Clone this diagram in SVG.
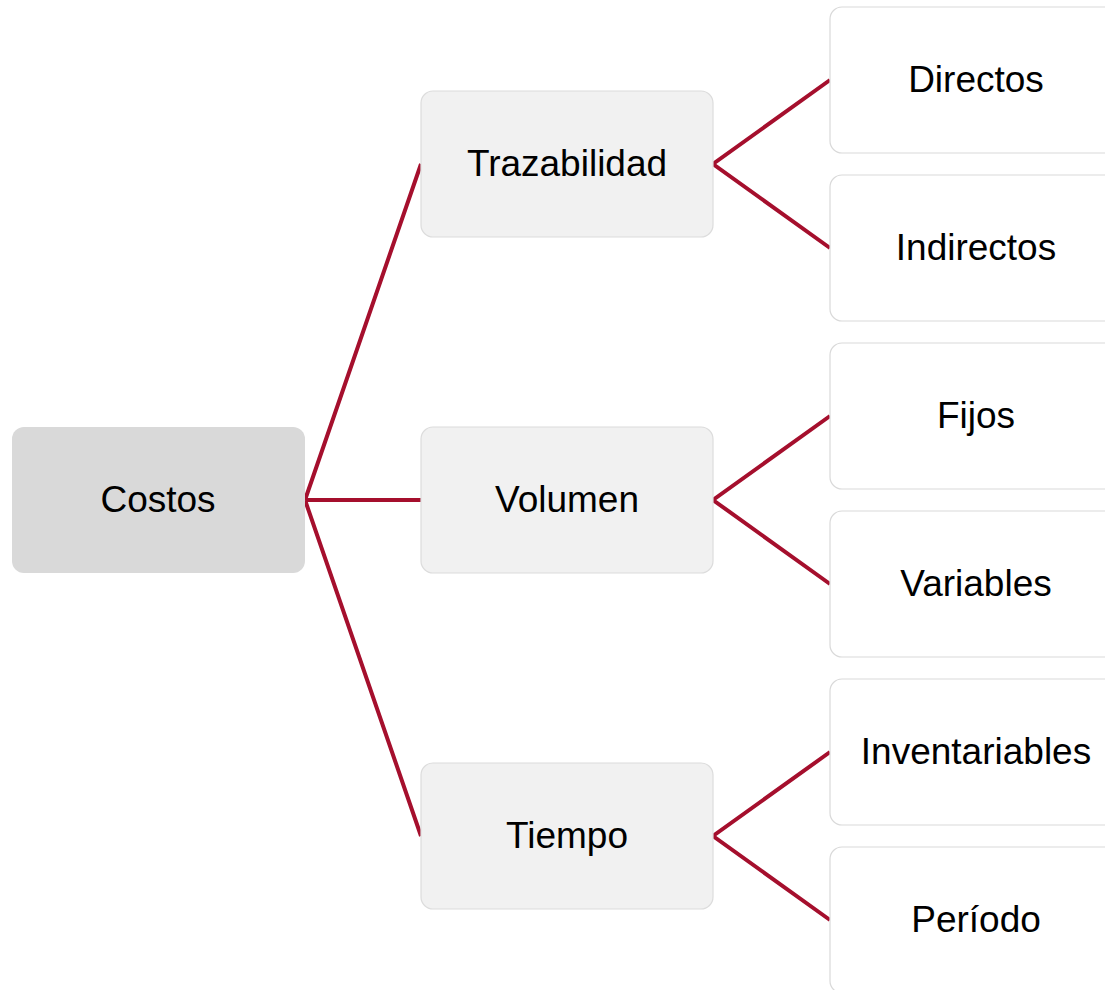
<svg xmlns="http://www.w3.org/2000/svg" width="1105" height="990" viewBox="0 0 1105 990">
<style>
.root{fill:#d9d9d9;}
.l2{fill:#f1f1f1;stroke:#dcdcdc;stroke-width:1.2;}
.l3{fill:#ffffff;stroke:#d9d9d9;stroke-width:1.2;}
.t{font-family:"Liberation Sans",Arial,sans-serif;font-size:37px;fill:#000;text-anchor:middle;}
.c{stroke:#a50f2d;stroke-width:4;fill:none;}
</style>
<rect width="1105" height="990" fill="#fff"/>
<g id="connectors">
<path class="c" d="M305,500 L421,164 M305,500 L421,500 M305,500 L421,836"/>
<path class="c" d="M830,80 L713,164 L830,248"/>
<path class="c" d="M830,416 L713,500 L830,584"/>
<path class="c" d="M830,752 L713,836 L830,920"/>
</g>
<g id="costos"><rect class="root" x="12" y="427" width="293" height="146" rx="12"/><text class="t" x="158" y="512">Costos</text></g>
<g id="trazabilidad"><rect class="l2" x="421" y="91" width="292" height="146" rx="12"/><text class="t" x="567" y="176">Trazabilidad</text></g>
<g id="volumen"><rect class="l2" x="421" y="427" width="292" height="146" rx="12"/><text class="t" x="567" y="512">Volumen</text></g>
<g id="tiempo"><rect class="l2" x="421" y="763" width="292" height="146" rx="12"/><text class="t" x="567" y="848">Tiempo</text></g>
<g id="directos"><rect class="l3" x="830" y="7" width="292" height="146" rx="12"/><text class="t" x="976" y="92">Directos</text></g>
<g id="indirectos"><rect class="l3" x="830" y="175" width="292" height="146" rx="12"/><text class="t" x="976" y="260">Indirectos</text></g>
<g id="fijos"><rect class="l3" x="830" y="343" width="292" height="146" rx="12"/><text class="t" x="976" y="428">Fijos</text></g>
<g id="variables"><rect class="l3" x="830" y="511" width="292" height="146" rx="12"/><text class="t" x="976" y="596">Variables</text></g>
<g id="inventariables"><rect class="l3" x="830" y="679" width="292" height="146" rx="12"/><text class="t" x="976" y="764">Inventariables</text></g>
<g id="periodo"><rect class="l3" x="830" y="847" width="292" height="146" rx="12"/><text class="t" x="976" y="932">Período</text></g>
</svg>
